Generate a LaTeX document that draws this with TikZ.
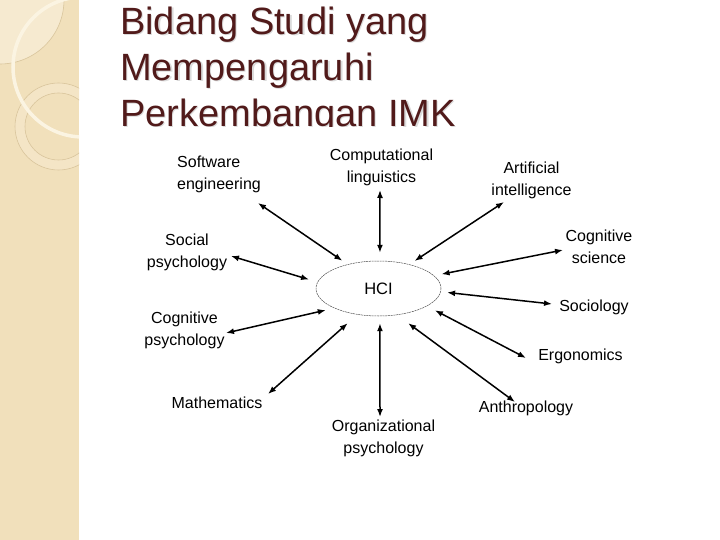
\documentclass[tikz,border=0pt]{standalone}
\usepackage{fontspec}
\setmainfont{Liberation Sans}
\usetikzlibrary{arrows.meta,positioning,shapes.geometric}

\definecolor{strip}{HTML}{F1E0BB}
\definecolor{stripLight}{HTML}{F6EAD0}
\definecolor{stripRing}{HTML}{F4E5C6}
\definecolor{stripLine}{HTML}{D9C59C}
\definecolor{stripArc}{HTML}{FBF4E2}
\definecolor{titleRed}{HTML}{511A1A}

\tikzset{
	title/.style={font=\fontsize{38}{46}\selectfont, text=titleRed, align=left, inner sep=0pt},
	field/.style={font=\fontsize{16}{22}\selectfont, align=center, inner sep=0pt},
	core/.style={ellipse, draw=black!70, dash pattern=on 2pt off 0.7pt, line width=0.5pt, minimum width=125pt, minimum height=55pt, inner sep=0pt, font=\fontsize{16.5}{18}\selectfont},
	link/.style={{Latex[length=8pt,width=6pt]}-{Latex[length=8pt,width=6pt]}, line width=1.5pt},
}

\begin{document}
\begin{tikzpicture}[x=1pt,y=-1pt]
	\useasboundingbox (0,0) rectangle (720,540);
	
	% side strip
	\fill[strip] (0,0) rectangle (79,540);
	\begin{scope}
		\clip (0,0) rectangle (79,540);
		\fill[stripLight, draw=stripLine, line width=0.6pt] (0,0) circle[radius=64];
		\fill[stripRing, even odd rule] (58.5,126.5) circle[radius=43.5] (58.5,126.5) circle[radius=33.5];
		\draw[stripLine, line width=0.6pt] (58.5,126.5) circle[radius=43.5];
		\draw[stripLine, line width=0.6pt] (58.5,126.5) circle[radius=33.5];
		\draw[stripArc, line width=3.5pt] (83,67) circle[radius=70];
	\end{scope}
	
	% title
	\begin{scope}
		\clip (79,0) rectangle (720,127);
		\node[title, text=black!14, anchor=north west] (title-shadow) at (121.2,8) {Bidang Studi yang\\Mempengaruhi\\Perkembangan IMK};
		\node[title, anchor=north west] (title) at (120,6.8) {Bidang Studi yang\\Mempengaruhi\\Perkembangan IMK};
	\end{scope}
	
	\node[core](hci) at (378.5,288.5){HCI};
	
	\node[field, align=left, anchor=west](se) at (177,174){Software\\engineering};
	\node[field](cl) at (381.5,167.5){Computational\\linguistics};
	\node[field](ai) at (531.5,180){Artificial\\intelligence};
	\node[field](sp) at (187,252){Social\\psychology};
	\node[field](cs) at (599,247){Cognitive\\science};
	\node[field](cp) at (184.5,330.5){Cognitive\\psychology};
	\node[field](soc) at (594,307){Sociology};
	\node[field](erg) at (580.5,356){Ergonomics};
	\node[field](math) at (217,403){Mathematics};
	\node[field](anth) at (526,408){Anthropology};
	\node[field](org) at (383.5,438){Organizational\\psychology};
	
	\coordinate (se-end) at (258,203);
	\coordinate (cl-end) at (380,190);
	\coordinate (ai-end) at (504,202);
	\coordinate (sp-end) at (231,256);
	\coordinate (cs-end) at (563,250);
	\coordinate (cp-end) at (226,333);
	\coordinate (soc-end) at (552,304);
	\coordinate (erg-end) at (526,358);
	\coordinate (math-end) at (268,394);
	\coordinate (anth-end) at (515,402);
	\coordinate (org-end) at (380,417);
	
	\draw[link, shorten >=6.4pt](se-end) -- (hci.142.6);
	\draw[link, shorten >=8pt](cl-end) -- (hci.87);
	\draw[link, shorten >=6.2pt](ai-end) -- (hci.38.5);
	\draw[link, shorten >=8.8pt](sp-end) -- (hci.174.5);
	\draw[link, shorten >=7.6pt](cs-end) -- (hci.13.3);
	\draw[link, shorten >=8.7pt](cp-end) -- (hci.204);
	\draw[link, shorten >=6.3pt](soc-end) -- (hci.357.4);
	\draw[link, shorten >=9pt](erg-end) -- (hci.340.4);
	\draw[link, shorten >=12.9pt](math-end) -- (hci.231.2);
	\draw[link, shorten >=13.8pt](anth-end) -- (hci.305);
	\draw[link, shorten >=7pt](org-end) -- (hci.273);
\end{tikzpicture}
\end{document}
